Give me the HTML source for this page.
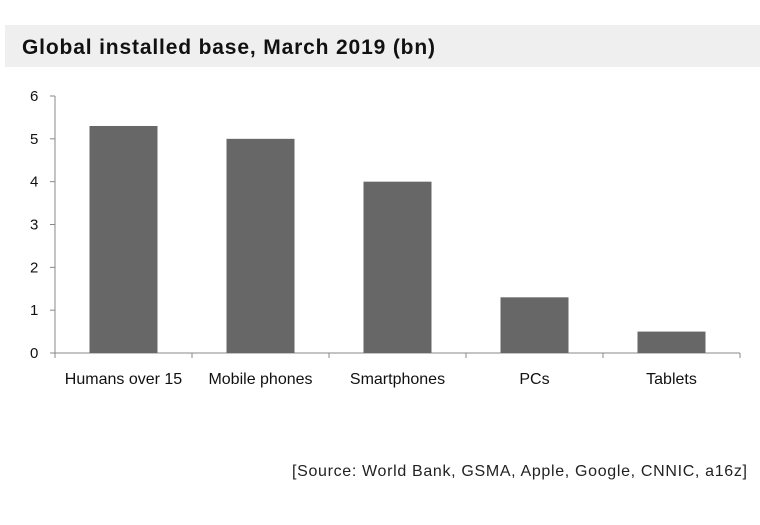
<!DOCTYPE html>
<html><head><meta charset="utf-8"><style>
body{margin:0;background:#fff;width:760px;height:520px;overflow:hidden;font-family:"Liberation Sans",sans-serif}
</style></head><body>
<svg width="760" height="520">
<rect x="5" y="25" width="755" height="42" fill="#efefef"/>
<text x="22" y="54" font-size="21" font-weight="bold" fill="#111" textLength="413">Global installed base, March 2019 (bn)</text>
<g id="plot"></g>
<text x="747" y="476" font-size="16" fill="#222" text-anchor="end" textLength="455">[Source: World Bank, GSMA, Apple, Google, CNNIC, a16z]</text>
</svg>
<script>
const categories=["Humans over 15","Mobile phones","Smartphones","PCs","Tablets"];
const values=[5.3,5.0,4.0,1.3,0.5];
const yTicks=[0,1,2,3,4,5,6];
const NS="http://www.w3.org/2000/svg";
const g=document.getElementById('plot');
const x0=55,x1=740,y0=353,yTop=96,ymax=6;
const y=v=>y0-(y0-yTop)*v/ymax;
const bw=(x1-x0)/categories.length;
function mk(t,a){const e=document.createElementNS(NS,t);for(const k in a)e.setAttribute(k,a[k]);g.appendChild(e);return e;}
let e=mk('line',{x1:x0,y1:yTop,x2:x0,y2:y0,stroke:'#888','stroke-width':1});


e=mk('line',{x1:x0,y1:y0,x2:x1,y2:y0,stroke:'#888','stroke-width':1});


yTicks.forEach(t=>{
  const l=mk('line',{x1:x0-5,y1:y(t),x2:x0,y2:y(t),stroke:'#888'});
  
  
  const tx=mk('text',{x:30,y:y(t)+5,'font-size':15,fill:'#111','text-anchor':'start'});
  tx.textContent=t;
  
  
});
for(let i=0;i<=categories.length;i++){
  const l=mk('line',{x1:x0+i*bw,y1:y0,x2:x0+i*bw,y2:y0+5,stroke:'#888'});
  
  
}
categories.forEach((c,i)=>{
  const cx=x0+bw*(i+0.5);
  const r=mk('rect',{x:cx-34,y:y(values[i]),width:68,height:y0-y(values[i]),fill:'#676767'});
  
  
  const t=mk('text',{x:cx,y:384,'font-size':16,fill:'#111','text-anchor':'middle'});
  t.textContent=c;
  
  
});
</script>
</body></html>
